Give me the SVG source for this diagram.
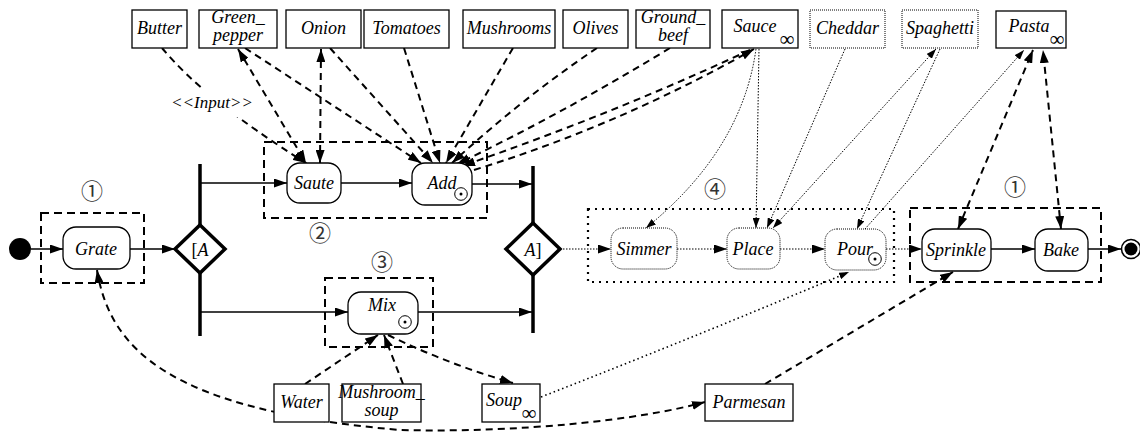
<svg xmlns="http://www.w3.org/2000/svg" width="1140" height="432" viewBox="0 0 1140 432">
<defs>
<marker id="ah" viewBox="0 0 13 9" refX="13" refY="4.5" markerWidth="13" markerHeight="9" markerUnits="userSpaceOnUse" orient="auto-start-reverse"><path d="M0,0 L13,4.5 L0,9 z" fill="#000"/></marker>
<marker id="as" viewBox="0 0 10 7" refX="10" refY="3.5" markerWidth="10" markerHeight="7" markerUnits="userSpaceOnUse" orient="auto-start-reverse"><path d="M0,0 L10,3.5 L0,7 z" fill="#000"/></marker>
</defs>
<style>
text{font-family:"Liberation Serif",serif;font-style:italic;font-size:18px;fill:#000;text-anchor:middle}
.num{font-family:"Noto Sans CJK JP","DejaVu Sans",sans-serif;font-style:normal;font-size:22px;fill:#333}
.inf{font-style:normal;font-size:21px}
.obj{fill:#fff;stroke:#000;stroke-width:1.3}
.objd{fill:#fff;stroke:#000;stroke-width:1;stroke-dasharray:1 1}
.act{fill:#fff;stroke:#000;stroke-width:1.3}
.actd{fill:#fff;stroke:#000;stroke-width:1;stroke-dasharray:1 1}
.grp{fill:none;stroke:#000;stroke-width:2;stroke-dasharray:8 5}
.grpd{fill:none;stroke:#000;stroke-width:2.2;stroke-dasharray:2 5}
.bar{stroke:#000;stroke-width:3.5;fill:none}
.dia{fill:#fff;stroke:#000;stroke-width:3.5}
.flow{fill:none;stroke:#000;stroke-width:1.5;marker-end:url(#ah)}
.flowd{fill:none;stroke:#000;stroke-width:1.2;stroke-dasharray:1.5 1.5;marker-end:url(#ah)}
.dash{fill:none;stroke:#000;stroke-width:2;stroke-dasharray:7 5;marker-end:url(#ah)}
.dot{fill:none;stroke:#000;stroke-width:1;stroke-dasharray:1.5 1.5;marker-end:url(#as)}
.dot2{fill:none;stroke:#000;stroke-width:1.6;stroke-dasharray:1.5 3;marker-end:url(#as)}
.both{marker-start:url(#ah)}
.boths{marker-start:url(#as)}
</style>
<rect width="1140" height="432" fill="#fff"/>

<!-- group frames -->
<g id="group1a"><rect class="grp" x="41" y="213" width="103" height="70"/><text class="num" x="92" y="199">①</text></g>
<g id="group2"><rect class="grp" x="264" y="142" width="223" height="76"/><text class="num" x="320" y="241">②</text></g>
<g id="group3"><rect class="grp" x="325" y="278" width="108" height="69"/><text class="num" x="382" y="270">③</text></g>
<g id="group4"><rect class="grpd" x="588" y="209" width="306" height="73"/><text class="num" x="715" y="197">④</text></g>
<g id="group1b"><rect class="grp" x="910" y="208" width="191" height="74"/><text class="num" x="1015" y="195">①</text></g>

<!-- connectors -->
<g id="connectors">
<line class="flow" x1="31" y1="249" x2="63" y2="249"/>
<line class="flow" x1="130" y1="249" x2="175" y2="249"/>
<line class="flow" x1="200" y1="183" x2="287" y2="183"/>
<line class="flow" x1="341" y1="183" x2="412" y2="183"/>
<line class="flow" x1="472" y1="184" x2="532" y2="184"/>
<line class="flow" x1="200" y1="312" x2="348" y2="312"/>
<line class="flow" x1="418" y1="312" x2="532" y2="312"/>
<line class="flowd" x1="560" y1="249" x2="611" y2="249"/>
<line class="flowd" x1="677" y1="249" x2="727" y2="249"/>
<line class="flowd" x1="780" y1="249" x2="825" y2="249"/>
<line class="flowd" x1="886" y1="249" x2="922" y2="249"/>
<line class="flow" x1="991" y1="249" x2="1035" y2="249"/>
<line class="flow" x1="1088" y1="249" x2="1121" y2="249"/>

<!-- inputs to Saute -->
<path class="dash" d="M162 48 Q205 100 306 163"/>
<path class="dash both" d="M238 49 L306 163"/>
<path class="dash both" d="M321 49 L320 163"/>
<!-- inputs to Add -->
<path class="dash" d="M245 48 L421 163"/>
<path class="dash" d="M330 48 L433 163"/>
<path class="dash" d="M404 48 L440 163"/>
<path class="dash" d="M513 48 L446 163"/>
<path class="dash" d="M597 48 Q520 100 452 163"/>
<path class="dash" d="M670 48 Q560 115 457 164"/>
<path class="dash" d="M750 50 Q610 115 462 166"/>
<path class="dash" d="M474 170 Q620 125 754 49"/>

<!-- process 4 object flows -->
<path class="dot" d="M756 49 Q742 150 646 228"/>
<path class="dot" d="M759 49 L756 228"/>
<path class="dot" d="M845 49 L767 228"/>
<path class="dot boths" d="M936 49 L773 228"/>
<path class="dot" d="M940 49 L857 229"/>
<path class="dot" d="M865 229 L1024 50"/>
<path class="dash both" d="M958 229 L1033 50"/>
<path class="dash both" d="M1061 229 L1043 50"/>

<!-- bottom -->
<path class="dash" d="M305 384 L378 335"/>
<path class="dash" d="M403 384 L384 335"/>
<path class="dash" d="M388 335 Q450 365 513 383"/>
<path class="dot2" d="M541 397 Q700 335 849 272"/>
<path class="dash" d="M765 384 L953 272"/>
<path class="dash both" d="M97 270 C110 350 170 410 400 430 C520 433 640 420 705 402"/>
</g>

<!-- label over Butter line -->
<g id="label-input"><rect x="166" y="88" width="94" height="29" fill="#fff"/><text x="212" y="108" style="font-size:17px">&lt;&lt;Input&gt;&gt;</text></g>

<!-- control nodes -->
<g id="initial"><circle cx="20" cy="249" r="11" fill="#000"/></g>
<g id="final"><circle cx="1131" cy="249" r="9.5" fill="#fff" stroke="#000" stroke-width="1.5"/><circle cx="1131" cy="249" r="6.5" fill="#000"/></g>
<g id="fork"><line class="bar" x1="200" y1="164" x2="200" y2="226"/><line class="bar" x1="200" y1="272" x2="200" y2="336"/><polygon class="dia" points="200,225 225,249 200,273 175,249"/><text x="200" y="256" style="font-style:normal">[<tspan style="font-style:italic">A</tspan></text></g>
<g id="join"><line class="bar" x1="533" y1="166" x2="533" y2="224"/><line class="bar" x1="533" y1="273" x2="533" y2="333"/><polygon class="dia" points="533,223 560,249 533,275 506,249"/><text x="533" y="256" style="font-style:normal"><tspan style="font-style:italic">A</tspan>]</text></g>

<!-- action nodes -->
<g id="grate"><rect class="act" x="63" y="227" width="67" height="42" rx="13"/><text x="96" y="255">Grate</text></g>
<g id="saute"><rect class="act" x="287" y="163" width="54" height="40" rx="13"/><text x="314" y="189">Saute</text></g>
<g id="add"><rect class="act" x="412" y="163" width="60" height="42" rx="13"/><text x="442" y="189">Add</text><circle cx="461" cy="194" r="6.3" fill="none" stroke="#000" stroke-width="1"/><circle cx="461" cy="194" r="1.5" fill="#000"/></g>
<g id="mix"><rect class="act" x="348" y="292" width="70" height="42" rx="13"/><text x="382" y="311">Mix</text><circle cx="405" cy="322" r="6.3" fill="none" stroke="#000" stroke-width="1"/><circle cx="405" cy="322" r="1.5" fill="#000"/></g>
<g id="simmer"><rect class="actd" x="611" y="228" width="66" height="41" rx="12"/><text x="644" y="255">Simmer</text></g>
<g id="place"><rect class="actd" x="727" y="228" width="53" height="41" rx="12"/><text x="753" y="255">Place</text></g>
<g id="pour"><rect class="actd" x="825" y="229" width="61" height="41" rx="12"/><text x="855" y="255">Pour</text><circle cx="875" cy="259" r="6.3" fill="none" stroke="#000" stroke-width="1"/><circle cx="875" cy="259" r="1.5" fill="#000"/></g>
<g id="sprinkle"><rect class="act" x="922" y="229" width="69" height="42" rx="13"/><text x="956" y="256">Sprinkle</text></g>
<g id="bake"><rect class="act" x="1035" y="229" width="53" height="42" rx="13"/><text x="1061" y="256">Bake</text></g>

<!-- object nodes -->
<g id="butter"><rect class="obj" x="132" y="10" width="55" height="38"/><text x="159.5" y="34">Butter</text></g>
<g id="green_pepper"><rect class="obj" x="199" y="10" width="78" height="38"/><text x="238" y="23">Green_</text><text x="238" y="41">pepper</text></g>
<g id="onion"><rect class="obj" x="286" y="10" width="75" height="38"/><text x="323.5" y="34">Onion</text></g>
<g id="tomatoes"><rect class="obj" x="364" y="10" width="85" height="38"/><text x="406.5" y="34">Tomatoes</text></g>
<g id="mushrooms"><rect class="obj" x="463" y="10" width="92" height="38"/><text x="509" y="34">Mushrooms</text></g>
<g id="olives"><rect class="obj" x="563" y="10" width="65" height="38"/><text x="595.5" y="34">Olives</text></g>
<g id="ground_beef"><rect class="obj" x="636" y="10" width="74" height="38"/><text x="673" y="23">Ground_</text><text x="673" y="41">beef</text></g>
<g id="sauce"><rect class="obj" x="722" y="10" width="76" height="38"/><text x="755" y="32">Sauce</text><text class="inf" x="787" y="46">∞</text></g>
<g id="cheddar"><rect class="objd" x="810" y="10" width="75" height="38"/><text x="847.5" y="34">Cheddar</text></g>
<g id="spaghetti"><rect class="objd" x="902" y="10" width="76" height="38"/><text x="940" y="34">Spaghetti</text></g>
<g id="pasta"><rect class="obj" x="996" y="11" width="70" height="37"/><text x="1029" y="32">Pasta</text><text class="inf" x="1057" y="46">∞</text></g>
<g id="water"><rect class="obj" x="274" y="384" width="55" height="38"/><text x="301.5" y="408">Water</text></g>
<g id="mushroom_soup"><rect class="obj" x="342" y="384" width="79" height="38"/><text x="381.5" y="398">Mushroom_</text><text x="381.5" y="416">soup</text></g>
<g id="soup"><rect class="obj" x="482" y="384" width="58" height="38"/><text x="504" y="406">Soup</text><text class="inf" x="529" y="420">∞</text></g>
<g id="parmesan"><rect class="obj" x="705" y="384" width="88" height="37"/><text x="749" y="408">Parmesan</text></g>
</svg>
